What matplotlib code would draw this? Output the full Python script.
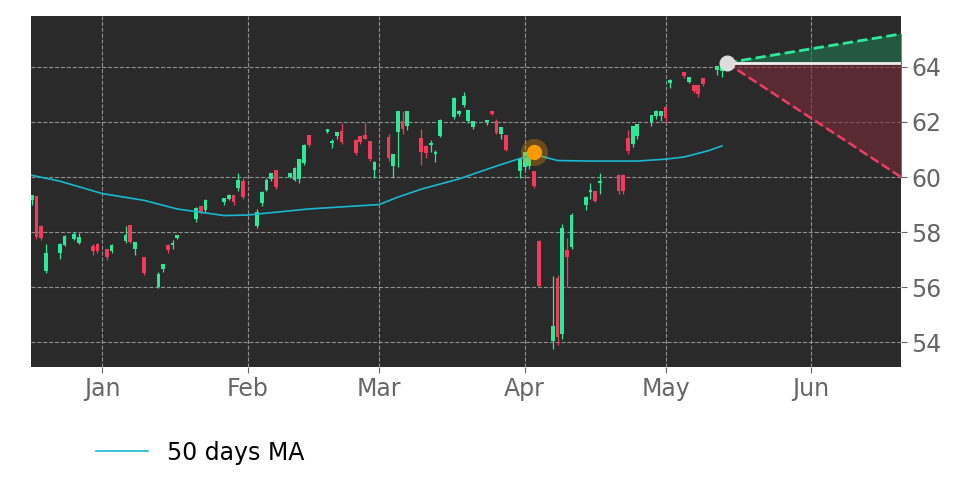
import matplotlib
matplotlib.use("Agg")
import matplotlib.pyplot as plt
import matplotlib.dates as mdates
import numpy as np
import pandas as pd

# daily candles: date, open, high, low, close
dates = ["2024-12-17", "2024-12-18", "2024-12-19", "2024-12-20",
         "2024-12-23", "2024-12-24", "2024-12-26", "2024-12-27",
         "2024-12-30", "2024-12-31", "2025-01-02", "2025-01-03",
         "2025-01-06", "2025-01-07", "2025-01-08", "2025-01-10",
         "2025-01-13", "2025-01-14", "2025-01-15", "2025-01-16", "2025-01-17",
         "2025-01-21", "2025-01-22", "2025-01-23",
         "2025-01-27", "2025-01-28", "2025-01-29", "2025-01-30", "2025-01-31",
         "2025-02-03", "2025-02-04", "2025-02-05", "2025-02-06", "2025-02-07",
         "2025-02-10", "2025-02-11", "2025-02-12", "2025-02-13", "2025-02-14",
         "2025-02-18", "2025-02-19", "2025-02-20", "2025-02-21",
         "2025-02-24", "2025-02-25", "2025-02-26", "2025-02-27", "2025-02-28",
         "2025-03-03", "2025-03-04", "2025-03-05", "2025-03-06", "2025-03-07",
         "2025-03-10", "2025-03-11", "2025-03-12", "2025-03-13", "2025-03-14",
         "2025-03-17", "2025-03-18", "2025-03-19", "2025-03-20", "2025-03-21",
         "2025-03-24", "2025-03-25", "2025-03-26", "2025-03-27", "2025-03-28",
         "2025-03-31", "2025-04-01", "2025-04-02", "2025-04-03", "2025-04-04",
         "2025-04-07", "2025-04-08", "2025-04-09", "2025-04-10", "2025-04-11",
         "2025-04-14", "2025-04-15", "2025-04-16", "2025-04-17",
         "2025-04-21", "2025-04-22", "2025-04-23", "2025-04-24", "2025-04-25",
         "2025-04-28", "2025-04-29", "2025-04-30", "2025-05-01", "2025-05-02",
         "2025-05-05", "2025-05-06", "2025-05-07", "2025-05-08", "2025-05-09",
         "2025-05-12", "2025-05-13"]
opens = [59.15, 59.26, 58.17, 56.60, 57.24, 57.54, 57.75, 57.62, 57.47,
         57.54, 57.35, 57.30, 57.68, 58.23, 57.38, 57.05, 56.01, 56.65, 57.50,
         57.53, 57.80, 58.47, 58.90, 58.80, 59.08, 59.20, 59.30, 59.60, 59.80,
         58.23, 59.05, 59.54, 59.93, 60.23, 60.00, 59.90, 59.93, 60.50, 61.47,
         61.65, 61.22, 61.48, 61.62, 61.32, 61.44, 61.50, 61.26, 60.27,
         61.41, 60.39, 61.63, 62.01, 61.87, 61.38, 61.10, 61.18, 60.85, 61.50,
         62.17, 62.30, 62.62, 62.05, 61.81, 61.99, 62.35, 62.01, 61.57, 61.48,
         60.23, 60.35, 60.40, 60.17, 57.65, 54.05, 56.29, 54.29, 57.32, 57.45,
         58.98, 59.45, 59.44, 59.78, 60.05, 60.05, 61.38, 61.20, 61.50,
         62.00, 62.20, 62.20, 62.50, 63.40, 63.77, 63.47, 63.32, 63.32, 63.56,
         63.90, 63.87]
highs = [59.35, 59.32, 58.25, 57.56, 57.60, 57.90, 58.00, 57.95,
         57.55, 57.60, 57.40, 57.55, 58.23, 58.25, 57.65, 57.10, 56.55, 56.85,
         57.55, 57.70, 57.90, 58.90, 58.95, 59.20, 59.25, 59.40, 59.35, 60.15,
         59.95, 58.85, 59.50, 59.95, 60.15, 60.25, 60.15, 60.35, 60.65, 61.20,
         61.50, 61.75, 61.40, 61.65, 61.95, 61.38, 61.50, 61.95, 61.30, 60.60,
         61.55, 60.85, 62.40, 62.40, 62.40, 61.75, 61.15, 61.35, 61.00, 62.10,
         62.90, 62.45, 63.08, 62.45, 62.05, 62.05, 62.40, 62.10, 61.80, 61.52,
         60.70, 60.90, 60.85, 60.20, 57.70, 56.40, 56.45, 58.30, 57.80, 58.70,
         59.30, 59.80, 59.50, 60.15, 60.10, 60.10, 61.70, 61.85, 61.90,
         62.25, 62.45, 62.40, 62.55, 63.55, 63.80, 63.60, 63.35, 63.35, 63.60,
         64.05, 64.30]
lows = [59.00, 57.75, 57.70, 56.53, 57.02, 57.48, 57.70, 57.55, 57.15,
        57.25, 57.00, 57.25, 57.60, 57.60, 57.15, 56.45, 55.95, 56.55, 57.25,
        57.40, 57.75, 58.35, 58.65, 58.70, 59.00, 59.15, 59.00, 59.50, 59.20,
        58.15, 58.95, 59.50, 59.85, 59.55, 59.95, 59.85, 59.80, 60.45, 61.10,
        61.60, 61.05, 61.40, 61.20, 60.80, 61.20, 61.40, 60.60, 59.95, 60.60,
        59.95, 60.35, 61.55, 61.70, 60.45, 60.70, 60.90, 60.55, 61.45, 62.10,
        62.20, 62.55, 61.95, 61.75, 61.90, 62.25, 61.55, 61.40, 60.95, 59.95,
        60.25, 60.30, 59.60, 56.00, 53.75, 53.90, 54.10, 56.00, 57.40, 58.80,
        59.20, 59.10, 59.40, 59.40, 59.40, 60.85, 61.10, 61.40, 61.85,
        62.10, 62.05, 62.00, 63.25, 63.60, 63.40, 63.05, 62.90, 63.30, 63.70,
        63.65]
closes = [59.30, 57.81, 57.77, 57.20, 57.54, 57.80, 57.90, 57.77, 57.30,
          57.30, 57.11, 57.48, 57.87, 57.65, 57.60, 56.53, 56.45, 56.81, 57.36,
          57.56, 57.87, 58.84, 58.72, 59.12, 59.20, 59.32, 59.08, 59.87, 59.26,
          58.70, 59.42, 59.87, 60.11, 59.62, 60.10, 60.30, 60.60, 61.14, 61.18,
          61.70, 61.26, 61.60, 61.26, 60.87, 61.26, 61.40, 60.66, 60.51, 60.68,
          60.80, 62.35, 61.75, 62.35, 60.92, 60.87, 61.20, 60.87, 62.05, 62.84,
          62.35, 62.90, 62.41, 62.01, 62.03, 62.29, 61.60, 61.77, 61.00, 60.65,
          60.87, 60.78, 59.69, 56.05, 54.53, 54.17, 58.11, 57.08, 58.59, 59.22,
          59.50, 59.14, 59.80, 59.50, 59.50, 60.96, 61.80, 61.87, 62.20,
          62.35, 62.35, 62.13, 63.47, 63.66, 63.60, 63.14, 63.02, 63.38, 64.00,
          64.17]

# 50 day moving average (read at a few dates)
ma_dates = ["2024-12-16", "2024-12-23", "2025-01-01", "2025-01-10", "2025-01-17",
            "2025-01-27", "2025-02-01", "2025-02-14", "2025-03-01", "2025-03-05",
            "2025-03-10", "2025-03-18", "2025-03-26", "2025-04-01", "2025-04-04",
            "2025-04-08", "2025-04-15", "2025-04-25", "2025-05-01", "2025-05-05",
            "2025-05-10", "2025-05-13"]
ma_values = [60.10, 59.85, 59.40, 59.15, 58.84, 58.60, 58.62, 58.84, 59.00, 59.27,
             59.56, 59.93, 60.40, 60.73, 60.78, 60.60, 60.58, 60.58, 60.65, 60.73,
             60.95, 61.13]

last_date = "2025-05-14"
last_price = 64.15
end_date = "2025-06-20 04:00"
upper_target = 65.2
lower_target = 60.0
event_date = "2025-04-03"
event_price = 60.9

GREEN = "#2ee89a"
RED = "#f23a5a"

fig = plt.figure(figsize=(9.72, 4.86), dpi=100)
ax = fig.add_axes([0.032, 0.245, 0.895, 0.722])
ax.set_facecolor("#2a2a2a")

d = mdates.date2num(pd.to_datetime(dates))
o, h, l, c = map(np.array, (opens, highs, lows, closes))
h = np.maximum(h, np.maximum(o, c))
l = np.minimum(l, np.minimum(o, c))
up = c >= o
cols = np.where(up, GREEN, RED)
ax.vlines(d, l, h, colors=cols, linewidth=0.9, zorder=3)
ax.bar(d, np.abs(c - o) + 0.04, bottom=np.minimum(o, c), width=0.8,
       color=cols, zorder=4)

ax.plot(pd.to_datetime(ma_dates), ma_values, color="#1ab8d0", lw=1.2,
        label="50 days MA", zorder=5)

# forecast cone
x0 = mdates.date2num(pd.Timestamp(last_date))
x1 = mdates.date2num(pd.Timestamp(end_date))
ax.fill_between([x0, x1], [last_price, last_price], [last_price, upper_target],
                color="#1f7a50", alpha=0.6, zorder=2)
ax.fill_between([x0, x1], [last_price, last_price], [last_price, lower_target],
                color="#7a2a38", alpha=0.6, zorder=2)
ax.plot([x0, x1], [last_price, upper_target], "--", color=GREEN, lw=2, zorder=5)
ax.plot([x0, x1], [last_price, lower_target], "--", color="#f03c64", lw=1.8, zorder=5)
ax.plot([x0, x1], [last_price, last_price], color="#eeeeee", lw=2, zorder=5)
ax.scatter([x0], [last_price], s=110, color="#dddddd", zorder=6)

ev = mdates.date2num(pd.Timestamp(event_date))
ax.scatter([ev], [event_price], s=380, color="#ff9900", alpha=0.3, zorder=6, lw=0)
ax.scatter([ev], [event_price], s=120, color="#ff9900", zorder=7, lw=0)

ax.set_xlim(mdates.date2num(pd.Timestamp("2024-12-16 21:00")), x1)
ax.set_ylim(53.1, 65.85)
ax.set_yticks([54, 56, 58, 60, 62, 64])
ax.yaxis.tick_right()
ax.xaxis.set_major_locator(mdates.MonthLocator())
ax.xaxis.set_major_formatter(mdates.DateFormatter("%b"))
ax.tick_params(colors="#666666", labelsize=17, length=4, labelcolor="#666666")
ax.grid(True, color="#aaaaaa", linestyle="--", linewidth=0.8, alpha=0.8)
for s in ax.spines.values():
    s.set_visible(False)

fig.legend(loc="lower left", bbox_to_anchor=(0.077, 0.0), frameon=False,
           fontsize=17, handlelength=2.2)

fig.savefig("out.png", dpi=100)
